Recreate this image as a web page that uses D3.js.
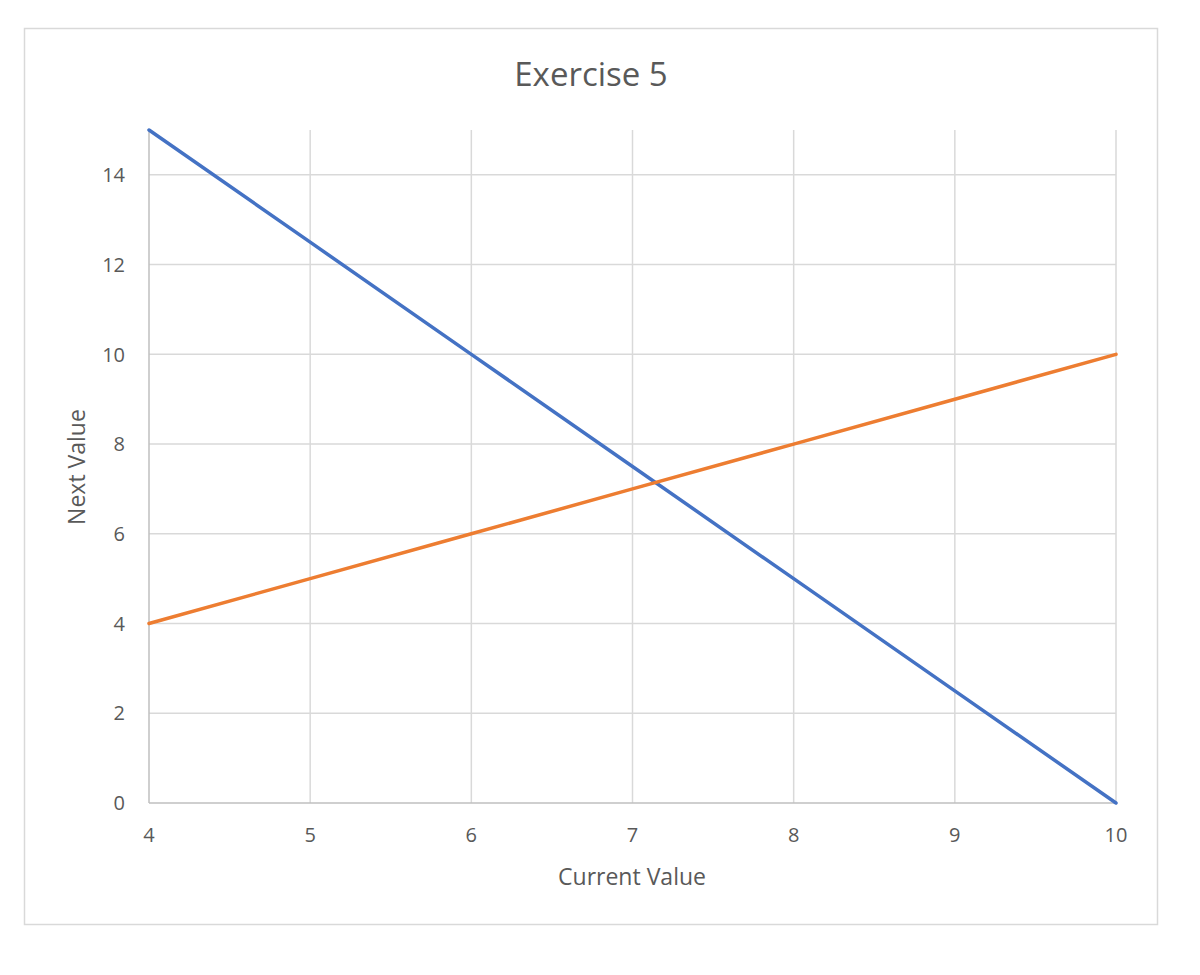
<!DOCTYPE html>
<html><head><meta charset="utf-8">
<script src="https://cdn.jsdelivr.net/npm/d3@7"></script>
<style>body{margin:0;background:#fff}svg{display:block}text{font-family:"Open Sans",sans-serif;fill:#595959}</style>
</head><body>
<script>
const xValues = [4, 5, 6, 7, 8, 9, 10];
const seriesA = [15, 12.5, 10, 7.5, 5, 2.5, 0];
const seriesB = [4, 5, 6, 7, 8, 9, 10];
const xTicks = [4, 5, 6, 7, 8, 9, 10];
const yTicks = [0, 2, 4, 6, 8, 10, 12, 14];
const title = "Exercise 5", xTitle = "Current Value", yTitle = "Next Value";

const W = 1200, H = 975;
const svg = d3.select("body").append("svg").attr("width", W).attr("height", H);
svg.append("rect").attr("x", 24.5).attr("y", 28.5).attr("width", 1133).attr("height", 896)
  .attr("fill", "#fff").attr("stroke", "#d9d9d9").attr("stroke-width", 1.5);

const x = d3.scaleLinear().domain([4, 10]).range([149, 1116]);
const y = d3.scaleLinear().domain([0, 15]).range([803, 130]);

const g = svg.append("g");
g.selectAll(".vg").data(xTicks.slice(1)).join("line")
  .attr("x1", d => x(d)).attr("x2", d => x(d)).attr("y1", y(15)).attr("y2", y(0))
  .attr("stroke", "#d9d9d9").attr("stroke-width", 1.5);
g.selectAll(".hg").data(yTicks.slice(1)).join("line")
  .attr("x1", x(4)).attr("x2", x(10)).attr("y1", d => y(d)).attr("y2", d => y(d))
  .attr("stroke", "#d9d9d9").attr("stroke-width", 1.5);
g.append("line").attr("x1", x(4)).attr("x2", x(4)).attr("y1", y(15)).attr("y2", y(0)).attr("stroke", "#bfbfbf").attr("stroke-width", 1.5);
g.append("line").attr("x1", x(4)).attr("x2", x(10)).attr("y1", y(0)).attr("y2", y(0)).attr("stroke", "#bfbfbf").attr("stroke-width", 1.5);

g.selectAll(".xt").data(xTicks).join("text")
  .attr("x", d => x(d)).attr("y", 842).attr("text-anchor", "middle").attr("font-size", 20).text(d => d);
g.selectAll(".yt").data(yTicks).join("text")
  .attr("x", 125).attr("y", d => y(d)).attr("dy", "0.36em").attr("text-anchor", "end").attr("font-size", 20).text(d => d);

const line = d3.line().x(d => x(d[0])).y(d => y(d[1]));
g.append("path").datum(xValues.map((v, i) => [v, seriesA[i]])).attr("d", line)
  .attr("fill", "none").attr("stroke", "#4472c4").attr("stroke-width", 3.5).attr("stroke-linecap", "round");
g.append("path").datum(xValues.map((v, i) => [v, seriesB[i]])).attr("d", line)
  .attr("fill", "none").attr("stroke", "#ed7d31").attr("stroke-width", 3.5).attr("stroke-linecap", "round");

svg.append("text").attr("x", 591).attr("y", 86).attr("text-anchor", "middle").attr("font-size", 33).text(title);
svg.append("text").attr("x", 632).attr("y", 885).attr("text-anchor", "middle").attr("font-size", 23).text(xTitle);
svg.append("text").attr("transform", "translate(85,467) rotate(-90)").attr("text-anchor", "middle").attr("font-size", 23).text(yTitle);
</script>
</body></html>
